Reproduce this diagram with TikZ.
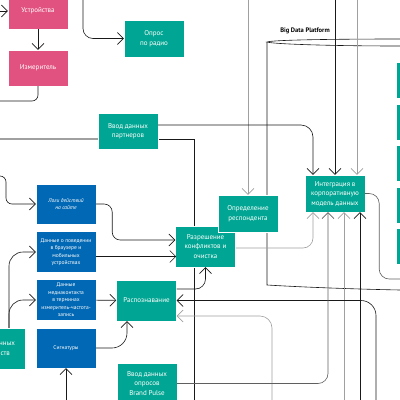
\documentclass[tikz,border=0pt]{standalone}
\usepackage{fontspec}
\setmainfont{PT Sans}
\usepackage{tikz}
\usetikzlibrary{arrows.meta}
\definecolor{tealc}{RGB}{0,166,147}
\definecolor{pinkc}{RGB}{226,82,128}
\definecolor{bluec}{RGB}{0,104,180}
\definecolor{linec}{RGB}{25,25,25}
\definecolor{grayc}{RGB}{160,160,160}
\definecolor{dgrayc}{RGB}{95,95,95}

\begin{document}
\begin{tikzpicture}[x=1pt, y=1pt, >={Straight Barb[length=6pt,width=12pt]}, node distance=48pt]
	\tikzstyle{tbox} = [fill=tealc, draw=white, line width=0.4pt, text=white, minimum width=60pt, minimum height=37pt, inner sep=1pt, align=center, font=\fontsize{7}{9.5}\selectfont]
	\tikzstyle{pbox} = [tbox, fill=pinkc, minimum height=36pt]
	\tikzstyle{bbox} = [tbox, fill=bluec, minimum height=41pt, font=\fontsize{5.5}{7.5}\selectfont]
	\tikzstyle{blk} = [draw=linec, line width=0.6pt]
	\tikzstyle{gry} = [draw=grayc, line width=0.6pt]
	\tikzstyle{dgry} = [draw=dgrayc, line width=0.6pt]
	\useasboundingbox (0,0) rectangle (400,-400);
	\clip (0,0) rectangle (400,-400);

	\coordinate (DevIn) at (0,-11);
	\coordinate (MeterOut) at (0,-101);
	\coordinate (RadioTop) at (83,0);
	\coordinate (PartIn) at (0,-139);
	\coordinate (PartMid) at (128,-139);
	\coordinate (ResBot) at (194,-400);
	\coordinate (RespTop) at (248,0);
	\coordinate (IntTopA) at (335,0);
	\coordinate (IntTopB) at (357,0);
	\coordinate (LogsIn) at (0,-176);
	\coordinate (SignIn) at (66,-400);
	\coordinate (IntBotC) at (344,-400);
	\coordinate (IntBotD) at (360,-400);
	\coordinate (RecA) at (376,-400);
	\coordinate (RecB) at (272,-400);
	\coordinate (IntOut) at (400,-279);
	\coordinate (CylA) at (267,-42);
	\coordinate (CylB) at (267,-285);

	\draw[gry, line width=1.3pt] (PartIn) -- (PartMid);
	\draw[blk] (PartMid) -| (ResBot);
	\draw[blk] (400,-39) .. controls (330,-39) and (272,-40) .. (CylA) .. controls (272,-44) and (330,-46) .. (400,-46);
	\draw[blk] (CylA) -- (CylB) .. controls (300,-287) and (350,-289) .. (400,-290);
	\node[font=\bfseries\fontsize{6.5}{8}\selectfont] (BDP) at (305,-31) {Big Data Platform};

	\path
	node[pbox] at (38,-11) (Dev) {Устройства}
	node[pbox, below of=Dev, node distance=57pt] (Meter) {Измеритель}
	node[tbox] at (154,-38.5) (Radio) {Опрос\\по радио}
	node[tbox, minimum height=36pt] at (128,-131) (Part) {Ввод данных\\партнеров}
	node[bbox, minimum height=40pt, font=\itshape\fontsize{5.5}{7.5}\selectfont] at (66,-204) (Logs) {Логи действий\\на сайте}
	node[bbox, below of=Logs] (Behav) {Данные о поведении\\в браузере и\\мобильных\\устройствах}
	node[bbox, below of=Behav] (Media) {Данные\\медиаконтакта\\в терминах\\измеритель-частота-\\запись}
	node[bbox, below of=Media, minimum height=40pt] (Sign) {Сигнатуры}
	node[tbox, minimum height=41pt] at (-5,-348.5) (DevIn2) {Ввод данных\\устройств}
	node[tbox, minimum height=41pt] at (146.5,-300.5) (Recog) {Распознавание}
	node[tbox, minimum height=41pt] at (147,-383.5) (Brand) {Ввод данных\\опросов\\Brand Pulse}
	node[tbox, minimum height=41pt] at (205.5,-246.5) (Resol) {Разрешение\\конфликтов и\\очистка}
	node[tbox] at (248,-213.5) (Resp) {Определение\\респондента}
	node[tbox] at (335,-193.5) (Integ) {Интеграция в\\корпоративную\\модель данных}
	node[tbox, minimum height=36pt] at (426,-80.5) (R1) {}
	node[tbox, minimum height=36pt, below of=R1, node distance=41.5pt] (R2) {}
	node[tbox, minimum height=36pt, below of=R2, node distance=41.5pt] (R3) {}
	node[tbox, minimum height=36pt, below of=R3, node distance=41.5pt] (R4) {}
	node[tbox, minimum height=36pt, below of=R4, node distance=41.5pt] (R5) {};

	\path[->]
	(DevIn) edge[blk] (Dev)
	(Dev) edge[blk] (Meter)
	(Media) edge[blk] (Recog)
	(SignIn) edge[blk] (Sign)
	(RespTop) edge[gry] (Resp)
	(IntTopA) edge[blk] (Integ)
	(IntTopB) edge[gry] (IntTopB |- Integ.north)
	(IntBotC) edge[gry] (IntBotC |- Integ.south)
	(IntBotD) edge[blk] (IntBotD |- Integ.south)
	;
	\draw[blk, rounded corners=6pt] (Meter.south) |- (MeterOut);
	\draw[->, blk, rounded corners=10pt] (RadioTop) |- (Radio.west);
	\draw[->, blk, rounded corners=12pt] ([yshift=6pt]Part.east) -| ([xshift=-22pt]Integ.north);
	\draw[->, blk, rounded corners=6pt] (LogsIn) -- ++(6,0) |- (Logs.west);
	\draw[->, blk, rounded corners=8pt] (Logs.east) -- ++(16,0) |- ([yshift=6.5pt]Resol.west);
	\draw[->, blk] ([yshift=-4.5pt]Behav.east) -- ++(80,0);
	\draw[->, blk, rounded corners=14pt] ([xshift=14pt]DevIn2.north) |- (Behav.west);
	\draw[->, blk, rounded corners=14pt] ([xshift=14pt]DevIn2.north) |- (Media.west);
	\draw[->, blk, rounded corners=15pt] (Sign.east) -| ([xshift=-19.5pt]Recog.south);
	\draw[->, blk, rounded corners=10pt] ([yshift=11.5pt]Recog.east) -| (Resol.south);
	\draw[->, blk, rounded corners=15pt] (RecA) |- (Recog.east);
	\draw[->, gry, rounded corners=12pt] (RecB) |- ([yshift=-15.5pt]Recog.east);
	\draw[->, gry, rounded corners=10pt] ([yshift=-1.5pt]Resol.east) -| ([xshift=-22pt]Integ.south);
	\draw[->, dgry, rounded corners=10pt] (Brand.east) -| ([xshift=-7pt]Integ.south);
	\draw[dgry, rounded corners=10pt] (Integ.east) -- ++(14,0) |- (IntOut);
\end{tikzpicture}
\end{document}
